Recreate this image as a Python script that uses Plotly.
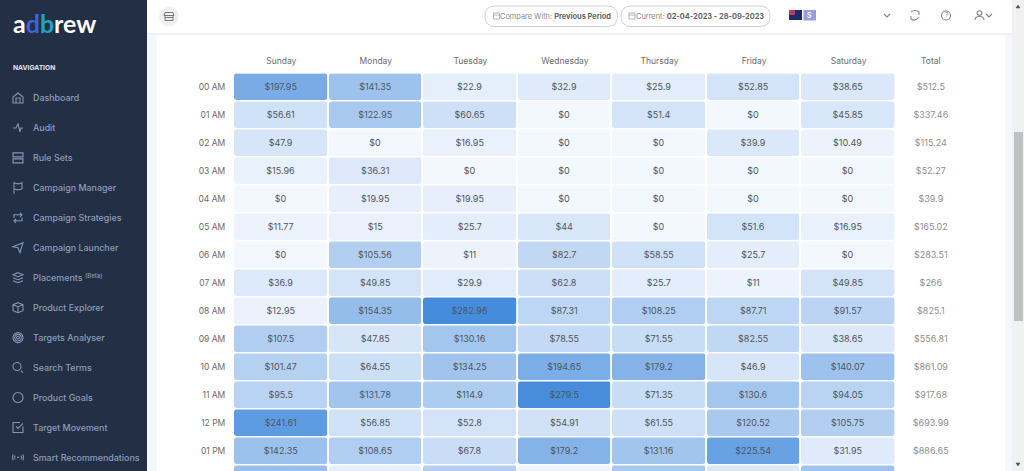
import re
import plotly.graph_objects as go

# heatmap data (the last row is cut off by the window, its values are estimated from colour)
hours = ["00 AM", "01 AM", "02 AM", "03 AM", "04 AM", "05 AM", "06 AM", "07 AM",
         "08 AM", "09 AM", "10 AM", "11 AM", "12 PM", "01 PM", "02 PM"]
days = ["Sunday", "Monday", "Tuesday", "Wednesday", "Thursday", "Friday", "Saturday"]
sunday = [197.95, 56.61, 47.9, 15.96, 0, 11.77, 0, 36.9, 12.95, 107.5, 101.47, 95.5, 241.61, 142.35, 148]
monday = [141.35, 122.95, 0, 36.31, 19.95, 15, 105.56, 49.85, 154.35, 47.85, 64.55, 131.78, 56.85, 108.65, 22]
tuesday = [22.9, 60.65, 16.95, 0, 19.95, 25.7, 11, 29.9, 282.96, 130.16, 134.25, 114.9, 52.8, 67.8, 105]
wednesday = [32.9, 0, 0, 0, 0, 44, 82.7, 62.8, 87.31, 78.55, 194.65, 279.5, 54.91, 179.2, 8]
thursday = [25.9, 51.4, 0, 0, 0, 0, 58.55, 25.7, 108.25, 71.55, 179.2, 71.35, 61.55, 131.16, 125]
friday = [52.85, 0, 39.9, 0, 0, 51.6, 25.7, 11, 87.71, 82.55, 46.9, 130.6, 120.52, 225.54, 40]
saturday = [38.65, 45.85, 10.49, 0, 0, 16.95, 0, 49.85, 91.57, 38.65, 140.07, 94.05, 105.75, 31.95, 135]
totals = [512.5, 337.46, 115.24, 52.27, 39.9, 165.02, 283.51, 266, 825.1, 556.81, 861.09, 917.68, 693.99, 886.65, None]

nav_items = ["Dashboard", "Audit", "Rule Sets", "Campaign Manager", "Campaign Strategies",
             "Campaign Launcher", "Placements", "Product Explorer", "Targets Analyser",
             "Search Terms", "Product Goals", "Target Movement", "Smart Recommendations"]

W, H = 1024, 471
FONT = "Inter"
NAV_TEXT = "#8c9dbb"
NAV_ICON = "#8496b5"
CELL_TEXT = "#4f5661"
TOOL_ICON = "#7d8794"


def px(x):
    return x / W


def py(y):
    return 1 - y / H


def to_paper(d, cx=0, cy=0):
    # svg path in window pixels -> paper coordinates
    out, is_x = [], True
    for tok in re.findall(r"[A-Za-z]|-?\d+\.?\d*", d):
        if tok.isalpha():
            out.append(tok)
            is_x = True
        else:
            v = float(tok)
            out.append(f"{px(v + cx):.5f}" if is_x else f"{py(v + cy):.5f}")
            is_x = not is_x
    return " ".join(out)


shapes = []
annotations = []


def rect(x0, y0, x1, y1, fill, line=None):
    shapes.append(dict(type="rect", xref="paper", yref="paper", layer="below",
                       x0=px(x0), x1=px(x1), y0=py(y0), y1=py(y1), fillcolor=fill,
                       line=dict(color=line or fill, width=1 if line else 0)))


def stroke(d, cx=0, cy=0, color=NAV_ICON, width=1.1, fill="rgba(0,0,0,0)"):
    shapes.append(dict(type="path", xref="paper", yref="paper", layer="below",
                       path=to_paper(d, cx, cy), fillcolor=fill,
                       line=dict(color=color, width=width)))


def circle(cx, cy, r, color=NAV_ICON, width=1.1, fill="rgba(0,0,0,0)"):
    shapes.append(dict(type="circle", xref="paper", yref="paper", layer="below",
                       x0=px(cx - r), x1=px(cx + r), y0=py(cy - r), y1=py(cy + r),
                       fillcolor=fill, line=dict(color=color, width=width)))


def label(x, y, text, size=9, color=NAV_TEXT, anchor="left", weight=None):
    annotations.append(dict(xref="paper", yref="paper", x=px(x), y=py(y), text=text,
                            showarrow=False, xanchor=anchor, yanchor="middle",
                            font=dict(family=FONT, size=size, color=color, weight=weight)))


# page chrome
rect(0, 0, 147, H, "#232f45")
rect(147, 33, 157, H, "#f5f7fc")
rect(1005, 33, 1012, H, "#f5f7fc")
rect(147, 33, 1012, 35, "#eef0f4")
rect(1012, 0, W, H, "#f1f1f1")
rect(1014, 132, 1023, 321, "#c1c1c1")
stroke("M1016 8 L1018 5 L1020 8 Z", color="#505050", width=0.5, fill="#505050")
stroke("M1016 463 L1018 466 L1020 463 Z", color="#505050", width=0.5, fill="#505050")

# logo and sidebar
annotations.append(dict(xref="paper", yref="paper", x=px(11), y=py(23), showarrow=False,
                        xanchor="left", yanchor="middle",
                        text='<span style="color:#ffffff">a</span><span style="color:#3f62e0">d</span>'
                             '<span style="color:#1ba5c9">b</span><span style="color:#ffffff">rew</span>',
                        font=dict(family="Lato", size=25, weight=700)))
label(11, 68, "NAVIGATION", size=6.7, color="#e4e8ef", weight=700)

icons = [
    "M-5 5 L-5 -1 L0 -5 L5 -1 L5 5 Z M-2 5 L-2 0 L2 0 L2 5",
    "M-5 0 L-2 0 L0 -4 L2 4 L3 0 L5 0",
    "M-5 -5 L5 -5 L5 -1 L-5 -1 Z M-5 1 L5 1 L5 5 L-5 5 Z",
    "M-4 6 L-4 -5 Q0 -3 4 -5 L4 1 Q0 3 -4 1",
    "M-4 0 L-4 -3 L4 -3 M2 -5 L4 -3 L2 -1 M4 0 L4 3 L-4 3 M-2 5 L-4 3 L-2 1",
    "M-5 -1 L5 -5 L2 5 L0 0 Z",
    "M0 -5 L5 -3 L0 -1 L-5 -3 Z M-5 0 L0 2 L5 0 M-5 3 L0 5 L5 3",
    "M0 -5 L5 -3 L5 3 L0 5 L-5 3 L-5 -3 Z M-5 -3 L0 -1 L5 -3 M0 -1 L0 5",
    None,
    "M3 3 L5 5",
    None,
    "M5 -1 L5 5 L-5 5 L-5 -5 L2 -5 M-2 -1 L0 1 L5 -4",
    "M-5 -3 Q-6 0 -5 3 M-3 -2 Q-4 0 -3 2 M3 -2 Q4 0 3 2 M5 -3 Q6 0 5 3 M-1 0 L1 0",
]
for i, item in enumerate(nav_items):
    y = 98 + i * 29.95
    label(30.8, y, item, size=8.9, weight=500)
    if icons[i]:
        stroke(icons[i], 18, y)
    if item == "Targets Analyser":
        for r in (5, 3.2, 1.4):
            circle(18, y, r)
    if item == "Search Terms":
        circle(17, y - 1, 4)
    if item == "Product Goals":
        circle(18, y, 5)
label(82.5, 275, "(Beta)", size=6, weight=500)

# top bar
circle(169, 16.5, 9.5, color="#f0f0f0", fill="#f0f0f0")
stroke("M-4 -4 L4 -4 L5 -1 L-5 -1 Z M-4 -1 L-4 4 L4 4 L4 -1 M-4 1 L4 1", 169, 16.5, color="#666c75", width=0.9)


def pill(x0, x1, y0=6, y1=26.5, r=10):
    d = (f"M{x0 + r} {y0} L{x1 - r} {y0} Q{x1} {y0} {x1} {y0 + r} Q{x1} {y1} {x1 - r} {y1} "
         f"L{x0 + r} {y1} Q{x0} {y1} {x0} {y0 + r} Q{x0} {y0} {x0 + r} {y0} Z")
    stroke(d, color="#d3d3d3", width=1)


pill(485, 617.5)
pill(621, 770)
cal = "M-3 -3 L3 -3 L3 3 L-3 3 Z M-3 -1 L3 -1"
stroke(cal, 496.5, 16, color="#9a9a9a", width=0.7)
stroke(cal, 632, 16, color="#9a9a9a", width=0.7)
label(498, 16.5, '<span style="color:#8a8a8a">Compare With:</span> <b>Previous Period</b>', size=7.4, color="#666666")
label(634, 16.5, '<span style="color:#8a8a8a">Current:</span> <b>02-04-2023 - 28-09-2023</b>', size=7.4, color="#666666")

rect(789, 10, 802, 20, "#1c2a6e")
rect(789, 10, 795, 15, "#b5405a")
rect(803.5, 10, 816, 20.5, "#9c9be0")
label(809.7, 15.5, "S", size=7, color="#ffffff", anchor="center", weight=600)

stroke("M884 14 L887 17 L890 14", color=TOOL_ICON)
stroke("M911 12 Q915 9 919 12 L919 15 M919 17 Q915 22 911 19 L911 16", color=TOOL_ICON)
circle(946, 15.5, 4.5, color=TOOL_ICON)
label(946, 15.5, "?", size=6.5, color=TOOL_ICON, anchor="center")
circle(979.5, 13, 2.3, color=TOOL_ICON)
stroke("M975 20 Q975 16.5 979.5 16.5 Q984 16.5 984 20", color=TOOL_ICON)
stroke("M986 14 L989 17 L992 14", color=TOOL_ICON)

# heatmap cells as one bar per weekday and hour, with a base so both ends get rounded
fig = go.Figure()
scale = [[0, "#f3f7fe"], [1, "#458cdc"]]
day_values = [sunday, monday, tuesday, wednesday, thursday, friday, saturday]
for d, (day, values) in enumerate(zip(days, day_values)):
    fig.add_trace(go.Bar(
        y=hours,
        x=[1] * len(hours),
        base=[d] * len(hours),
        orientation="h",
        name=day,
        marker=dict(color=values, cmin=0, cmax=max(tuesday), colorscale=scale,
                    cornerradius=4, line=dict(color="#ffffff", width=1.6)),
        # the last row sits below the window edge, so no label for it
        text=[f"${v:g}" for v in values[:-1]] + [""],
        textposition="inside",
        insidetextanchor="middle",
        textangle=0,
        constraintext="none",
        textfont=dict(family=FONT, size=9, color=CELL_TEXT),
        hoverinfo="skip",
    ))

TOTAL_X = 7.37
fig.add_trace(go.Scatter(
    x=[TOTAL_X] * len(hours),
    y=hours,
    mode="text",
    text=[f"${v:g}" if v is not None else "" for v in totals],
    textfont=dict(family=FONT, size=9, color="#8f8f8f"),
    hoverinfo="skip",
))

fig.update_layout(
    width=W,
    height=H,
    margin=dict(l=0, r=0, t=0, b=0),
    paper_bgcolor="#ffffff",
    plot_bgcolor="rgba(0,0,0,0)",
    barmode="overlay",
    bargap=0,
    showlegend=False,
    shapes=shapes,
    annotations=annotations,
    xaxis=dict(
        domain=[px(234), px(965)],
        range=[0, 731 / 94.55],
        side="top",
        tickvals=[0.5, 1.5, 2.5, 3.5, 4.5, 5.5, 6.5, TOTAL_X],
        ticktext=days + ["Total"],
        ticks="outside",
        ticklen=5,
        tickcolor="rgba(0,0,0,0)",
        showgrid=False,
        zeroline=False,
        showline=False,
        tickfont=dict(family=FONT, size=8.5, color="#6c6c6c"),
    ),
    yaxis=dict(
        domain=[0, py(73.5)],
        range=[(H - 73.5) / 28 - 0.5, -0.5],
        type="category",
        categoryorder="array",
        categoryarray=hours,
        ticks="outside",
        ticklen=6,
        tickcolor="rgba(0,0,0,0)",
        showgrid=False,
        zeroline=False,
        showline=False,
        tickfont=dict(family=FONT, size=8.5, color="#6c6c6c"),
    ),
)

fig.write_html("out.html", config=dict(displayModeBar=False),
               post_script="document.body.style.margin='0';document.body.style.overflow='hidden';")
